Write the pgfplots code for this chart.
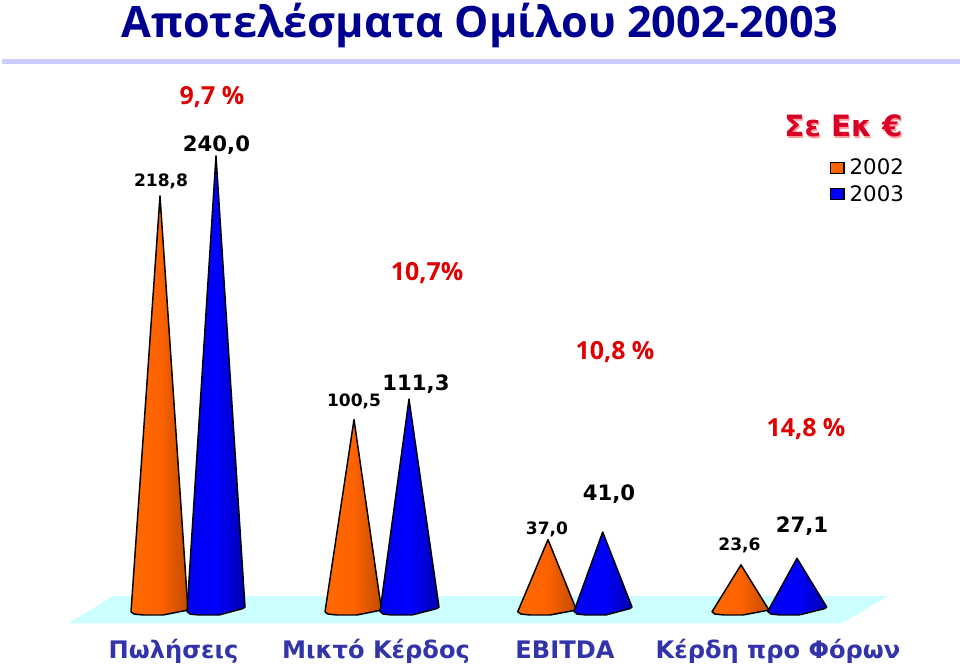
\documentclass[border=0pt]{standalone}
\usepackage{fontspec}
\usepackage{pgfplots}
\pgfplotsset{compat=1.18}
\setmainfont{DejaVu Sans}
\newfontfamily\titlefont{Open Sans}
\definecolor{titleblue}{HTML}{000090}
\definecolor{catblue}{HTML}{3333AA}
\definecolor{redtxt}{HTML}{E00000}
\definecolor{plate}{HTML}{CCFFFF}
\definecolor{rulec}{HTML}{CCCCFF}
\definecolor{orA}{HTML}{FF6A00}
\definecolor{orB}{HTML}{FF6200}
\definecolor{orC}{HTML}{C04C00}
\definecolor{blA}{HTML}{0000F0}
\definecolor{blB}{HTML}{0000FF}
\definecolor{blC}{HTML}{0000B0}
\pgfplotsset{
 orcone/.style={draw=black,line width=1.1pt,line join=round,left color=orA,right color=orC,middle color=orB,forget plot},
 blcone/.style={draw=black,line width=1.1pt,line join=round,left color=blA,right color=blC,middle color=blB,forget plot},
 swatch/.style={legend image code/.code={\path[draw=none] (0cm,0cm) -- (0.52cm,0cm);\draw[##1,line width=0.8pt] (0.08cm,-0.14cm) rectangle (0.44cm,0.14cm);}},
}
\begin{document}
\begin{tikzpicture}[x=1pt,y=1pt]
\path[use as bounding box] (0,0) rectangle (720pt,501pt);
\begin{axis}[
 at={(0,0)},anchor=south west,
 scale only axis,width=720pt,height=501pt,
 xmin=0,xmax=960,ymin=-30.95,ymax=322.49,
 axis line style={draw=none},
 tick style={draw=none},
 ytick=\empty,
 xtick={173.5,376,565,778},
 xticklabels={Πωλήσεις,Μικτό Κέρδος,EBITDA,Κέρδη προ Φόρων},
 xticklabel style={anchor=base,yshift=7.5pt,font=\fontsize{18.1}{20}\selectfont\bfseries,text=catblue},
 clip=false,
 legend style={at={(axis cs:827,240)},anchor=north west,draw=none,fill=none,
   font=\fontsize{16}{18}\selectfont,inner sep=0pt,row sep=2.5pt,
   legend cell align=left},
]
% floor
\addplot[fill=plate,draw=none,forget plot] coordinates {(68,-7.4)(113,7.1)(888,7.1)(842,-7.4)} --cycle;
% legend
\addlegendimage{swatch,fill=orB,draw=black}
\addlegendentry{2002}
\addlegendimage{swatch,fill=blB,draw=black}
\addlegendentry{2003}
% Πωλήσεις
\addplot[orcone] coordinates {(160,218.8)(131,-1.2)(134,-2.4)(143,-2.9)(163,-2.9)(188,-0.3)} --cycle;
\addplot[blcone] coordinates {(216,240.0)(187,-1.0)(190,-2.4)(199,-2.9)(219,-2.9)(243,0.5)(245,1.3)} --cycle;
% Μικτό Κέρδος
\addplot[orcone] coordinates {(354,100.5)(325,-1.2)(328,-2.4)(337,-2.9)(357,-2.9)(381.5,-0.3)} --cycle;
\addplot[blcone] coordinates {(409,111.3)(380,-1.0)(383,-2.4)(392,-2.9)(412,-2.9)(437,0.5)(439,1.3)} --cycle;
% EBITDA
\addplot[orcone] coordinates {(548,37.0)(517.7,-1.2)(521,-2.4)(530,-2.9)(550,-2.9)(576.5,-0.3)} --cycle;
\addplot[blcone] coordinates {(602.7,41.0)(574,-1.0)(577,-2.4)(586,-2.9)(606,-2.9)(630,0.5)(632,1.3)} --cycle;
% Κέρδη προ Φόρων
\addplot[orcone] coordinates {(741,23.6)(712,-1.2)(715,-2.4)(724,-2.9)(743,-2.9)(769,-0.3)} --cycle;
\addplot[blcone] coordinates {(797,27.1)(767.7,-1.0)(771,-2.4)(780,-2.9)(799,-2.9)(825,0.5)(826.7,1.3)} --cycle;
% value labels
\def\vS{\fontsize{12.8}{14}\selectfont\bfseries}
\def\vL{\fontsize{15.9}{17}\selectfont\bfseries}
\node[font=\vS] at (axis cs:161,226.4) {218,8};
\node[font=\vL] at (axis cs:216.5,245.8) {240,0};
\node[font=\vS] at (axis cs:354,110.2) {100,5};
\node[font=\vL] at (axis cs:416,119.0) {111,3};
\node[font=\vS] at (axis cs:547,42.4) {37,0};
\node[font=\vL] at (axis cs:609,61.0) {41,0};
\node[font=\vS] at (axis cs:739.5,33.9) {23,6};
\node[font=\vL] at (axis cs:802,43.9) {27,1};
% percentage labels
\def\pc{\titlefont\fontsize{18.7}{20}\selectfont\bfseries\color{redtxt}}
\node[font=\pc] at (axis cs:212,271) {9,7 \%};
\node[font=\pc] at (axis cs:427,177.9) {10,7\%};
\node[font=\pc] at (axis cs:615,136) {10,8 \%};
\node[font=\pc] at (axis cs:806,95.2) {14,8 \%};
% unit
\node[font=\fontsize{22}{24}\selectfont\bfseries,text=pink!80!red] at (axis cs:844.5,255.0) {Σε Εκ €};
\node[font=\fontsize{22}{24}\selectfont\bfseries,text=red!85!blue] at (axis cs:843.5,256) {Σε Εκ €};
% title
\node[font=\titlefont\fontsize{32.4}{36}\selectfont\bfseries,text=titleblue] at (axis cs:480,309) {Αποτελέσματα Ομίλου 2002-2003};
\end{axis}
\fill[rulec] (1.5pt,501pt-48pt) rectangle (720pt,501pt-44pt);
\end{tikzpicture}
\end{document}
